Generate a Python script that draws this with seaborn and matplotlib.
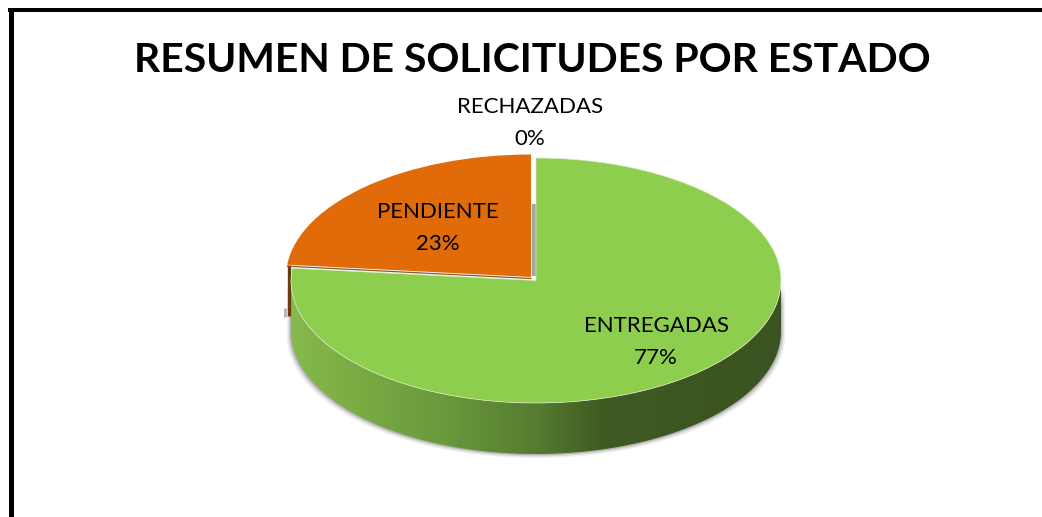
import numpy as np
import matplotlib.pyplot as plt
import seaborn as sns
from matplotlib.colors import LinearSegmentedColormap
from matplotlib.lines import Line2D
from matplotlib.patches import Polygon

# values
estados = ["ENTREGADAS", "PENDIENTE", "RECHAZADAS"]
porcentajes = [76.6, 23.4, 0.0]
colores = ["#8ECE4E", "#E06B08", "#BFBFBF"]
etiquetas_pos = [(656, 342), (438, 228), (530, 123)]
titulo = "RESUMEN DE SOLICITUDES POR ESTADO"

sns.set_theme(style="white")
plt.rcParams["font.family"] = ["Lato", "DejaVu Sans"]

W, H = 1042, 517
cx, cy, rx, ry = 536, 280.5, 245, 122.5   # ellipse of the pie top, in pixels
depth = 51 / ry
ex, ey = -5 / rx, 3.5 / ry                # how far PENDIENTE is pulled out

fig = plt.figure(figsize=(W / 100, H / 100), dpi=100)
ax = fig.add_axes([0, 0, 1, 1])

ax.pie(porcentajes[:2], colors=colores[:2], startangle=90, counterclock=False,
       radius=1, wedgeprops={"linewidth": 0})
wedges = ax.patches[:]
wedges[0].set_zorder(5)
wedges[0].set_edgecolor("#DCEBC8")
wedges[0].set_linewidth(0.5)
wedges[1].set_center((ex, ey))
wedges[1].set_zorder(6)

# side wall of the green slice
t = np.radians(np.linspace(180, 360, 181))
top = np.column_stack([np.cos(t), np.sin(t)])
bottom = np.column_stack([np.cos(t), np.sin(t) - depth])
wall = np.vstack([top, bottom[::-1]])

for grow, alpha in [(4, 0.10), (2.5, 0.16), (1.2, 0.25)]:
    soft = wall.copy()
    soft[:, 0] *= 1 + grow / rx
    soft[:, 1] -= grow / ry
    ax.add_patch(Polygon(soft, closed=True, fc="#555555", ec="none", alpha=alpha, zorder=1))

cmap = LinearSegmentedColormap.from_list("lado", [
    (0.0, "#86BA4C"), (0.1, "#7DAF45"), (0.3, "#6B9A3C"),
    (0.5, "#557C30"), (0.64, "#3F5A22"), (1.0, "#3B5320")])
grad = ax.imshow(np.linspace(0, 1, 400).reshape(1, -1), cmap=cmap, aspect="auto",
                 extent=(-1, 1, -1 - depth, 0), zorder=2)
clip = Polygon(wall, closed=True, transform=ax.transData)
grad.set_clip_path(clip)

# brown edge of the pulled out slice, and the grey shadow next to it
ang = np.radians(90 + porcentajes[1] * 3.6)
ox, oy = np.cos(ang) + ex, np.sin(ang) + ey
ax.plot([ox - 2 / rx, ox - 2 / rx], [oy - depth + 8 / ry, oy - depth - 1 / ry], color="#9A9A9A",
        lw=2.2, alpha=0.7, zorder=3, solid_capstyle="butt")
ax.plot([ox + 1.5 / rx, ox + 1.5 / rx], [oy, oy - depth], color="#6B3A10", lw=2.4,
        zorder=4, solid_capstyle="butt")
ax.plot([ox, ex], [oy - 1.5 / ry, ey - 1.5 / ry], color="#8A5A2E", lw=0.9, zorder=5.5)
ax.plot([ex + 3 / rx, ex + 3 / rx], [ey + 1 / ry, ey + 73 / ry], color="#A6A6A6", lw=3.2,
        zorder=4, solid_capstyle="butt")

ax.set_aspect("auto")
ax.set_xlim(-cx / rx, (W - cx) / rx)
ax.set_ylim(-(H - cy) / ry, cy / ry)
ax.axis("off")

# title and labels
fig.text(532 / W, 1 - 61 / H, titulo, ha="center", va="center", fontsize=29.4,
         fontweight="bold", color="black")
for nombre, pct, (px, py) in zip(estados, porcentajes, etiquetas_pos):
    fig.text(px / W, 1 - py / H, f"{nombre}\n{pct:.0f}%", ha="center", va="center",
             fontsize=16, color="black", linespacing=1.78)

# black frame, only top and left are in the crop
fig.add_artist(Line2D([10.5 / W, 10.5 / W], [0, 1 - 8 / H], color="black", lw=3.6,
                      solid_capstyle="butt"))
fig.add_artist(Line2D([8 / W, 1], [1 - 10 / H, 1 - 10 / H], color="black", lw=2.9,
                      solid_capstyle="butt"))

fig.savefig("out.png", dpi=100)
